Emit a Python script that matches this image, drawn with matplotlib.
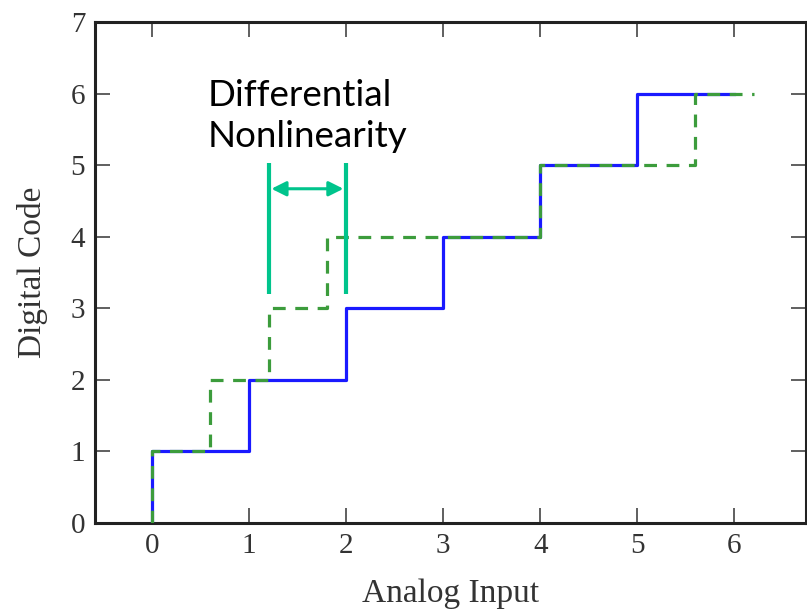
import matplotlib
matplotlib.use("Agg")
import matplotlib.pyplot as plt

# ideal ADC transfer (blue) and one with differential nonlinearity (green dashed)
ideal_x = [0, 0, 1, 2, 3, 4, 5, 6]
ideal_y = [0, 1, 2, 3, 4, 5, 6, 6]
dnl_x = [0, 0, 0.6, 1.2, 1.8, 4, 5.6, 6.2]
dnl_y = [0, 1, 2, 3, 4, 5, 6, 6]

xticks = [0, 1, 2, 3, 4, 5, 6]
yticks = [0, 1, 2, 3, 4, 5, 6, 7]

# DNL marker positions (in data units)
dnl_left = 1.2
dnl_right = 2.0
marker_bottom = 3.2
marker_top = 5.03
arrow_y = 4.67

plt.rcParams['font.family'] = ['Liberation Serif', 'DejaVu Serif']

fig = plt.figure(figsize=(8.07, 6.09), dpi=100)
ax = fig.add_axes([95 / 807, 1 - 523 / 609, 711 / 807, 501 / 609])

ax.step(ideal_x, ideal_y, where='post', color='#1a1aff', lw=2.3, zorder=3)
ax.step(dnl_x, dnl_y, where='post', color='#3c9c3c', lw=2.3,
        dashes=(4, 3), zorder=4)

ax.set_xlim(-0.59, 6.74)
ax.set_ylim(0, 7)
ax.set_xticks(xticks)
ax.set_yticks(yticks)
ax.tick_params(direction='in', top=True, right=True, length=11, width=1.2,
               labelsize=21, labelcolor='#333333', color='#444444', pad=7)
for s in ax.spines.values():
    s.set_linewidth(2.2)
    s.set_color('#222222')

ax.set_xlabel('Analog Input', fontsize=24, color='#333333', labelpad=14)
ax.set_ylabel('Digital Code', fontsize=24, color='#333333', labelpad=16)

teal = '#00c48c'
ax.vlines([dnl_left, dnl_right], marker_bottom, marker_top, color=teal, lw=3, zorder=5)
ax.annotate('', xy=(dnl_left, arrow_y), xytext=(dnl_right, arrow_y),
            arrowprops=dict(arrowstyle='<|-|>', color=teal, lw=2.2,
                            mutation_scale=22, shrinkA=2, shrinkB=2), zorder=5)
ax.text(0.57, 6.2, 'Differential\nNonlinearity', fontsize=26.5,
        family=['Lato', 'DejaVu Sans'], va='top', ha='left', linespacing=1.3,
        color='black', zorder=6)

fig.savefig('out.png', dpi=100)
